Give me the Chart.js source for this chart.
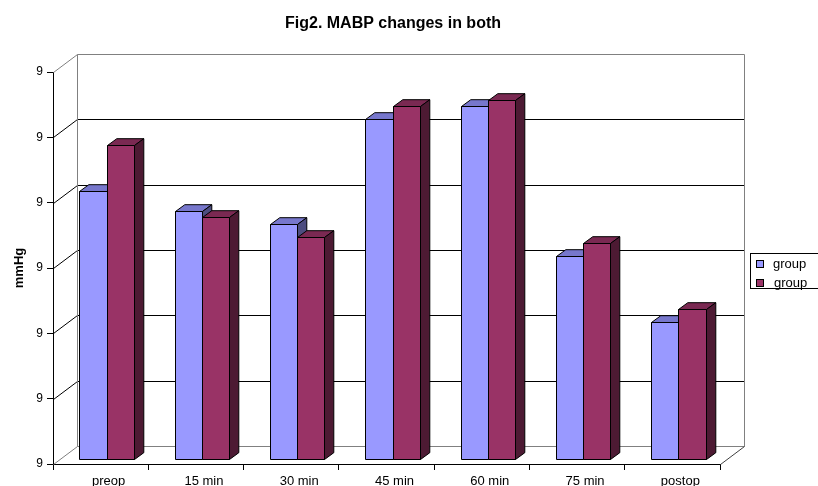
<!DOCTYPE html>
<html>
<head>
<meta charset="utf-8">
<script src="https://cdn.jsdelivr.net/npm/chart.js@4.4.0/dist/chart.umd.min.js"></script>
<style>
  html, body { margin: 0; padding: 0; background: #ffffff; }
  #wrap { width: 818px; height: 486px; }
</style>
</head>
<body>
<div id="wrap"><canvas id="c" width="818" height="486"></canvas></div>
<script>
// Mean arterial blood pressure at each time point, two study groups
const categories  = ['preop', '15 min', '30 min', '45 min', '60 min', '75 min', 'postop'];
const groupA      = [94.1, 93.8, 93.6, 95.2, 95.4, 93.1, 92.1];
const groupB      = [94.8, 93.7, 93.4, 95.4, 95.5, 93.3, 92.3];
const seriesNames = ['group', 'group'];
const yTickLabels = ['9', '9', '9', '9', '9', '9', '9'];
const chartTitle  = 'Fig2. MABP changes in both';
const yTitle      = 'mmHg';
const yMin = 90, yMax = 96;

const FONT = "'Liberation Sans', Arial, sans-serif";

// Oblique 3-D projection offsets (pixels)
const BAR_SHIFT  = { dx: 6,    dy: -5 };    // front axis plane -> bar front faces
const BAR_DEPTH  = { dx: 9.3,  dy: -6.8 };  // thickness of each bar
const WALL_DEPTH = { dx: 23.5, dy: -18 };   // front axis plane -> back wall

const FACE = [
  { front: '#9999FF', top: '#7777CC', side: '#4D4D80' },
  { front: '#993366', top: '#7A2952', side: '#4D1A33' }
];

function line(ctx, x1, y1, x2, y2, color) {
  ctx.strokeStyle = color;
  ctx.beginPath();
  ctx.moveTo(x1, y1);
  ctx.lineTo(x2, y2);
  ctx.stroke();
}

function poly(ctx, pts, fill) {
  ctx.beginPath();
  ctx.moveTo(pts[0][0], pts[0][1]);
  for (let k = 1; k < pts.length; k++) ctx.lineTo(pts[k][0], pts[k][1]);
  ctx.closePath();
  ctx.fillStyle = fill;
  ctx.fill();
  ctx.strokeStyle = '#000000';
  ctx.stroke();
}

// Walls, floor and 3-D bars
const box3d = {
  id: 'box3d',
  beforeDatasetsDraw(chart) {
    const { ctx, chartArea: a, scales: { y } } = chart;
    const W = WALL_DEPTH;
    const snap = v => Math.round(v) + 0.5;
    const bl = snap(a.left + W.dx), br = snap(a.right + W.dx);
    const bt = snap(a.top + W.dy),  bb = snap(a.bottom + W.dy);

    ctx.save();
    ctx.lineWidth = 1;

    // back wall gridlines and left wall diagonals
    y.ticks.forEach((t, i) => {
      const py = y.getPixelForValue(t.value);
      const edge = i === 0 || i === y.ticks.length - 1;
      const col = edge ? '#808080' : '#000000';
      line(ctx, a.left + 0.5, snap(py), bl, snap(py + W.dy), col);
      if (!edge) line(ctx, bl, snap(py + W.dy), br, snap(py + W.dy), '#000000');
    });
    // back wall outline
    line(ctx, bl, bt, br, bt, '#808080');
    line(ctx, bl, bt, bl, bb, '#808080');
    line(ctx, br, bt, br, bb, '#808080');
    line(ctx, bl, bb, br, bb, '#808080');
    // floor right edge
    line(ctx, snap(a.right), snap(a.bottom), br, bb, '#404040');

    // bars: each category left to right, series in order
    const B = BAR_SHIFT, D = BAR_DEPTH;
    for (let i = 0; i < chart.data.labels.length; i++) {
      chart.data.datasets.forEach((ds, di) => {
        const el = chart.getDatasetMeta(di).data[i];
        const p = el.getProps(['x', 'y', 'base', 'width'], true);
        const L = Math.round(p.x - p.width / 2 + B.dx) + 0.5;
        const R = Math.round(p.x + p.width / 2 + B.dx) + 0.5;
        const T = Math.round(p.y + B.dy) + 0.5;
        const Bt = Math.round(p.base + B.dy) + 0.5;
        const c = FACE[di];
        poly(ctx, [[L, Bt], [L, T], [R, T], [R, Bt]], c.front);
        poly(ctx, [[L, T], [L + D.dx, T + D.dy], [R + D.dx, T + D.dy], [R, T]], c.top);
        poly(ctx, [[R, T], [R + D.dx, T + D.dy], [R + D.dx, Bt + D.dy], [R, Bt]], c.side);
      });
    }
    ctx.restore();
    return false;
  },
  afterDraw(chart) {
    const { ctx } = chart;
    ctx.save();
    // title
    ctx.fillStyle = '#000000';
    ctx.font = 'bold 16px ' + FONT;
    ctx.textAlign = 'center';
    ctx.textBaseline = 'alphabetic';
    ctx.fillText(chartTitle, 393, 28);

    // legend
    ctx.lineWidth = 1;
    ctx.strokeStyle = '#000000';
    ctx.strokeRect(750.5, 253.5, 90, 35);
    ctx.font = '13px ' + FONT;
    ctx.textAlign = 'left';
    ctx.textBaseline = 'middle';
    chart.data.datasets.forEach((ds, di) => {
      const cy = 264 + di * 19;
      ctx.fillStyle = ds.backgroundColor;
      ctx.fillRect(756.5, cy - 3.5, 7, 7);
      ctx.strokeRect(756.5, cy - 3.5, 7, 7);
      ctx.fillStyle = '#000000';
      ctx.fillText(ds.label, 773 + di, cy);
    });
    ctx.restore();
  }
};

new Chart(document.getElementById('c'), {
  type: 'bar',
  data: {
    labels: categories,
    datasets: [
      { label: seriesNames[0], data: groupA, backgroundColor: FACE[0].front },
      { label: seriesNames[1], data: groupB, backgroundColor: FACE[1].front }
    ]
  },
  options: {
    responsive: false,
    animation: false,
    devicePixelRatio: 1,
    layout: { padding: { top: 72, right: 98, bottom: 0, left: 0 } },
    datasets: { bar: { barPercentage: 1, categoryPercentage: 0.571, base: yMin } },
    plugins: {
      legend: { display: false },
      title: { display: false },
      tooltip: { enabled: false }
    },
    scales: {
      x: {
        offset: true,
        grid: { display: true, offset: true, drawOnChartArea: false, drawTicks: true, tickLength: 6, color: '#000000' },
        border: { display: true, color: '#000000' },
        ticks: { color: '#000000', font: { family: FONT, size: 13 }, padding: 4, labelOffset: 8, maxRotation: 0, autoSkip: false },
        afterFit(scale) { scale.height = 22; }
      },
      y: {
        min: yMin,
        max: yMax,
        ticks: {
          stepSize: 1,
          color: '#000000',
          font: { family: FONT, size: 12 },
          padding: 4,
          callback: (v, i) => yTickLabels[i]
        },
        grid: { display: true, drawOnChartArea: false, drawTicks: true, tickLength: 6, color: '#000000' },
        border: { display: true, color: '#000000' },
        title: { display: true, text: yTitle, color: '#000000', font: { family: FONT, size: 13, weight: 'bold' }, padding: { top: 12, bottom: 0 } },
        afterFit(scale) { scale.width = 53; }
      }
    }
  },
  plugins: [box3d]
});
</script>
</body>
</html>
